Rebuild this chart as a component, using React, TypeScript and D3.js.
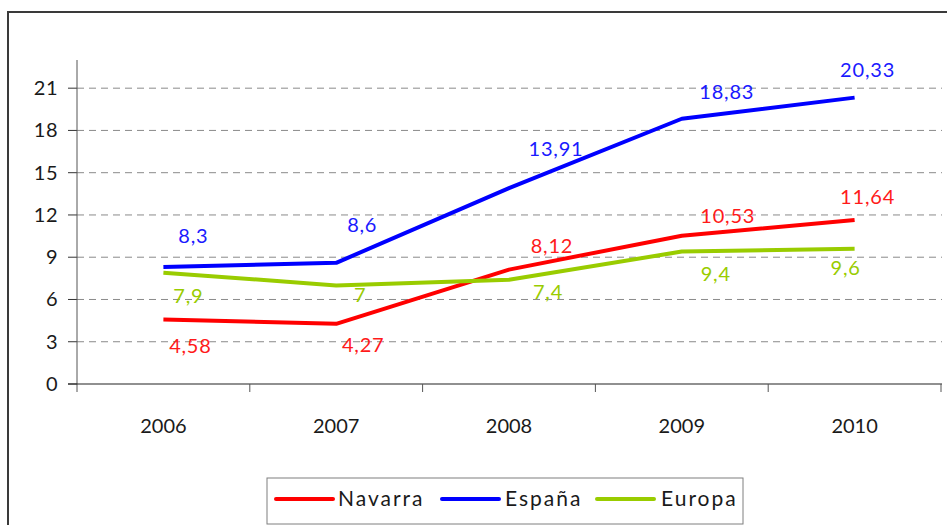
import * as d3 from "d3";

const years = ["2006", "2007", "2008", "2009", "2010"];
const navarra = [4.58, 4.27, 8.12, 10.53, 11.64];
const espana = [8.3, 8.6, 13.91, 18.83, 20.33];
const europa = [7.9, 7, 7.4, 9.4, 9.6];
const yTicks = [0, 3, 6, 9, 12, 15, 18, 21];

// label offsets from each point (dx, dy)
const navarraOffsets = [[27, 27], [27, 21], [43, -24], [46, -20], [13, -23]];
const espanaOffsets = [[30, -31], [26, -38], [47, -39], [45, -27], [13, -28]];
const europaOffsets = [[25, 23], [24, 10], [39, 12], [34, 22], [-9, 19]];

const series = [
  { name: "Navarra", values: navarra, color: "#ff0000", text: "#ff1a1a", offsets: navarraOffsets },
  { name: "España", values: espana, color: "#0000ff", text: "#1a1aff", offsets: espanaOffsets },
  { name: "Europa", values: europa, color: "#99cc00", text: "#99cc00", offsets: europaOffsets },
];

const W = 947;
const H = 525;
const FONT = "Lato, 'DejaVu Sans', sans-serif";

const fmt = (v: number) => String(v).replace(".", ",");

export default function App() {
  const x = d3.scaleBand<string>().domain(years).range([77, 941]);
  const y = d3.scaleLinear().domain([0, 23]).range([384, 60]);
  const line = d3
    .line<number>()
    .x((_, i) => (x(years[i]) as number) + x.bandwidth() / 2)
    .y((d) => y(d));

  const legendItems = [
    { x0: 276, tx: 338 },
    { x0: 442, tx: 505 },
    { x0: 597, tx: 661 },
  ];

  return (
    <div style={{ position: "absolute", left: 0, top: 0 }}>
      <svg width={W} height={H} style={{ display: "block", fontFamily: FONT }}>
        <rect x={0} y={0} width={W} height={H} fill="#fff" />
        {/* outer frame */}
        <rect x={8} y={12} width={W + 20} height={H + 20} fill="none" stroke="#3a3a3a" strokeWidth={2} />

        {/* grid + y ticks */}
        {yTicks.map((t) => (
          <g key={t}>
            {t > 0 && (
              <line x1={77} x2={942} y1={y(t)} y2={y(t)} stroke="#8a8a8a" strokeWidth={1} strokeDasharray="7,5" />
            )}
            <line x1={68} x2={77} y1={y(t)} y2={y(t)} stroke="#333" strokeWidth={1} />
            <text x={58} y={y(t) + 7} textAnchor="end" fontSize={20} fill="#1a1a1a" letterSpacing={0.5}>
              {t}
            </text>
          </g>
        ))}

        {/* axes */}
        <line x1={77} x2={77} y1={60} y2={392} stroke="#555" strokeWidth={1} />
        <line x1={68} x2={942} y1={384} y2={384} stroke="#222" strokeWidth={1.2} />
        {years.map((yr, i) => (
          <g key={yr}>
            {i > 0 && (
              <line x1={x(yr)} x2={x(yr)} y1={384} y2={392} stroke="#555" strokeWidth={1} />
            )}
            <text
              x={(x(yr) as number) + x.bandwidth() / 2}
              y={433}
              textAnchor="middle"
              fontSize={20}
              fill="#1a1a1a"
            >
              {yr}
            </text>
          </g>
        ))}
        <line x1={941} x2={941} y1={384} y2={392} stroke="#555" strokeWidth={1} />

        {/* lines */}
        {series.map((s) => (
          <path
            key={s.name}
            d={line(s.values) as string}
            fill="none"
            stroke={s.color}
            strokeWidth={4}
            strokeLinejoin="round"
          />
        ))}

        {/* value labels */}
        {series.map((s) =>
          s.values.map((v, i) => (
            <text
              key={s.name + i}
              x={(x(years[i]) as number) + x.bandwidth() / 2 + s.offsets[i][0]}
              y={y(v) + s.offsets[i][1] + 7}
              textAnchor="middle"
              fontSize={20}
              letterSpacing={0.8}
              fill={s.text}
            >
              {fmt(v)}
            </text>
          ))
        )}

        {/* legend */}
        <rect x={267} y={478} width={476} height={46} fill="#fff" stroke="#7f7f7f" strokeWidth={1} />
        {series.map((s, i) => (
          <g key={s.name}>
            <line
              x1={legendItems[i].x0}
              x2={legendItems[i].x0 + 57}
              y1={499}
              y2={499}
              stroke={s.color}
              strokeWidth={4}
              strokeLinecap="round"
            />
            <text x={legendItems[i].tx} y={506} fontSize={21} fill="#1a1a1a" letterSpacing={2}>
              {s.name}
            </text>
          </g>
        ))}
      </svg>
    </div>
  );
}
